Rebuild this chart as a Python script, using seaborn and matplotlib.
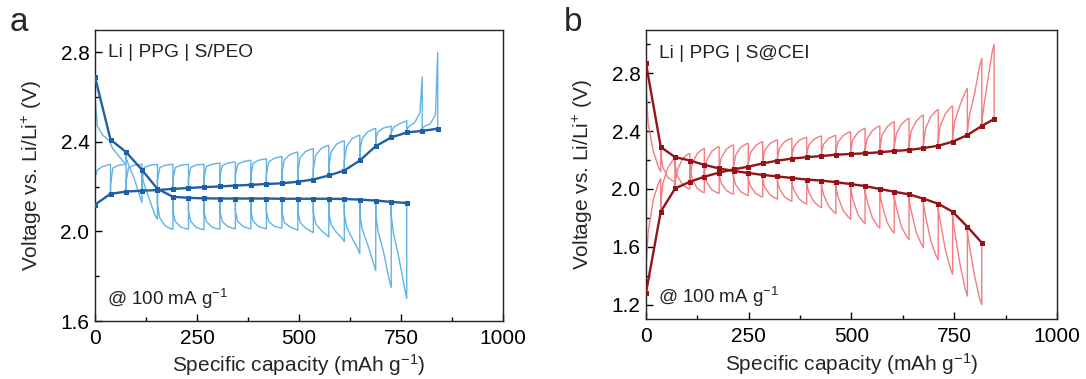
import numpy as np
import pandas as pd
import matplotlib
matplotlib.use("Agg")
import matplotlib.pyplot as plt
from matplotlib.ticker import MultipleLocator
import seaborn as sns

# ---------------- panel a : Li | PPG | S/PEO ----------------
cap_a_dis = [0, 38, 76, 115, 153, 191, 229, 267, 306, 344, 382, 420, 458, 497,
             535, 573, 611, 649, 688, 726, 764]
cap_a_chg = [0, 38, 76, 115, 153, 191, 229, 267, 306, 344, 382, 420, 458, 497,
             535, 573, 611, 649, 688, 726, 764, 802, 840]

# quasi-equilibrium (relaxed) voltages
eq_a_dis = [2.69, 2.41, 2.355, 2.275, 2.19, 2.155, 2.15, 2.148, 2.147, 2.147, 2.147,
            2.147, 2.146, 2.146, 2.146, 2.146, 2.145, 2.142, 2.138, 2.132, 2.127]
eq_a_chg = [2.12, 2.168, 2.178, 2.182, 2.185, 2.19, 2.194, 2.198, 2.201, 2.205, 2.208,
            2.212, 2.215, 2.222, 2.232, 2.25, 2.272, 2.317, 2.381, 2.42, 2.442, 2.449, 2.459]

# pulse profiles: voltage right after current on, at 15 %, 50 %, 85 % and end of pulse
ir_a_dis = [2.60, 2.39, 2.33, 2.25, 2.12, 2.09, 2.09, 2.09, 2.09, 2.09, 2.09, 2.09,
            2.09, 2.09, 2.085, 2.085, 2.08, 2.08, 2.075, 2.07]
q1_a_dis = [2.47, 2.37, 2.30, 2.21, 2.06, 2.045, 2.045, 2.045, 2.045, 2.045, 2.045, 2.045,
            2.04, 2.04, 2.035, 2.03, 2.02, 2.01, 2.0, 1.99]
mid_a_dis = [2.43, 2.34, 2.24, 2.14, 2.025, 2.02, 2.018, 2.02, 2.022, 2.022, 2.022, 2.024,
             2.02, 2.015, 2.005, 1.995, 1.97, 1.94, 1.91, 1.88]
q3_a_dis = [2.41, 2.31, 2.16, 2.07, 2.012, 2.012, 2.01, 2.012, 2.014, 2.014, 2.014, 2.017,
            2.01, 2.0, 1.985, 1.97, 1.925, 1.86, 1.79, 1.75]
end_a_dis = [2.40, 2.30, 2.13, 2.055, 2.01, 2.01, 2.008, 2.01, 2.012, 2.012, 2.012, 2.015,
             2.006, 1.995, 1.975, 1.955, 1.90, 1.825, 1.75, 1.70]

ir_a_chg = [2.24, 2.21, 2.22, 2.225, 2.228, 2.232, 2.236, 2.24, 2.245, 2.25, 2.25,
            2.255, 2.26, 2.265, 2.275, 2.29, 2.315, 2.36, 2.41, 2.44, 2.455, 2.46]
q1_a_chg = [2.275, 2.283, 2.285, 2.285, 2.285, 2.285, 2.286, 2.29, 2.293, 2.30, 2.305,
            2.31, 2.32, 2.33, 2.34, 2.355, 2.38, 2.415, 2.445, 2.465, 2.47, 2.47]
mid_a_chg = [2.29, 2.295, 2.296, 2.296, 2.296, 2.296, 2.297, 2.30, 2.305, 2.312, 2.318,
             2.327, 2.343, 2.357, 2.37, 2.39, 2.415, 2.445, 2.462, 2.48, 2.485, 2.48]
q3_a_chg = [2.297, 2.299, 2.299, 2.299, 2.299, 2.299, 2.299, 2.304, 2.309, 2.316, 2.323,
            2.333, 2.352, 2.367, 2.382, 2.402, 2.427, 2.457, 2.468, 2.49, 2.53, 2.52]
end_a_chg = [2.30, 2.30, 2.30, 2.30, 2.30, 2.30, 2.30, 2.305, 2.31, 2.318, 2.325,
             2.335, 2.355, 2.37, 2.385, 2.405, 2.43, 2.46, 2.47, 2.495, 2.69, 2.80]

# ---------------- panel b : Li | PPG | S@CEI ----------------
cap_b_dis = [0, 36, 71, 107, 142, 178, 213, 249, 284, 320, 355, 391, 427, 462,
             498, 533, 569, 604, 640, 675, 711, 746, 782, 817]
cap_b_chg = [0, 36, 71, 107, 142, 178, 213, 249, 284, 320, 355, 391, 427, 462,
             498, 533, 569, 604, 640, 675, 711, 746, 782, 817, 847]

eq_b_dis = [2.87, 2.29, 2.22, 2.197, 2.167, 2.142, 2.125, 2.111, 2.097, 2.087, 2.076, 2.065,
            2.058, 2.047, 2.034, 2.02, 2.0, 1.981, 1.963, 1.933, 1.898, 1.843, 1.739, 1.628]
eq_b_chg = [1.28, 1.843, 2.004, 2.05, 2.085, 2.113, 2.136, 2.154, 2.177, 2.196, 2.21, 2.22,
            2.228, 2.237, 2.242, 2.247, 2.254, 2.263, 2.27, 2.283, 2.299, 2.327, 2.373,
            2.436, 2.484]

ir_b_dis = [2.72, 2.24, 2.17, 2.15, 2.12, 2.10, 2.085, 2.07, 2.06, 2.05, 2.04, 2.03,
            2.02, 2.01, 2.0, 1.985, 1.965, 1.945, 1.925, 1.895, 1.86, 1.80, 1.70]
q1_b_dis = [2.45, 2.15, 2.09, 2.07, 2.05, 2.04, 2.03, 2.02, 2.01, 2.0, 1.99, 1.975,
            1.96, 1.945, 1.93, 1.915, 1.895, 1.87, 1.85, 1.81, 1.77, 1.70, 1.60]
mid_b_dis = [2.26, 2.08, 2.03, 2.005, 1.995, 1.99, 1.98, 1.97, 1.96, 1.945, 1.93, 1.91,
             1.88, 1.85, 1.825, 1.80, 1.77, 1.735, 1.70, 1.64, 1.58, 1.48, 1.40]
q3_b_dis = [2.15, 2.055, 2.005, 1.98, 1.975, 1.97, 1.96, 1.95, 1.937, 1.922, 1.903, 1.88,
            1.842, 1.805, 1.775, 1.745, 1.71, 1.67, 1.62, 1.54, 1.45, 1.31, 1.24]
end_b_dis = [2.12, 2.05, 2.00, 1.975, 1.97, 1.965, 1.955, 1.945, 1.93, 1.915, 1.895, 1.87,
             1.83, 1.79, 1.76, 1.73, 1.695, 1.65, 1.595, 1.51, 1.41, 1.26, 1.20]

ir_b_chg = [1.45, 1.90, 2.04, 2.08, 2.11, 2.14, 2.16, 2.18, 2.20, 2.22, 2.235, 2.245,
            2.253, 2.262, 2.268, 2.273, 2.28, 2.29, 2.30, 2.31, 2.33, 2.36, 2.40, 2.46]
q1_b_chg = [1.70, 2.04, 2.13, 2.17, 2.195, 2.215, 2.235, 2.25, 2.27, 2.285, 2.295, 2.305,
            2.31, 2.325, 2.34, 2.35, 2.37, 2.385, 2.40, 2.42, 2.44, 2.47, 2.51, 2.56]
mid_b_chg = [1.93, 2.15, 2.21, 2.245, 2.26, 2.275, 2.29, 2.30, 2.315, 2.328, 2.337, 2.345,
             2.35, 2.37, 2.39, 2.405, 2.43, 2.45, 2.47, 2.50, 2.52, 2.58, 2.66, 2.76]
q3_b_chg = [2.04, 2.20, 2.24, 2.273, 2.287, 2.299, 2.311, 2.322, 2.335, 2.346, 2.353, 2.362,
            2.366, 2.391, 2.414, 2.43, 2.458, 2.481, 2.503, 2.54, 2.563, 2.67, 2.85, 2.95]
end_b_chg = [2.07, 2.21, 2.245, 2.28, 2.293, 2.304, 2.316, 2.327, 2.339, 2.35, 2.357, 2.366,
             2.37, 2.396, 2.42, 2.436, 2.465, 2.489, 2.512, 2.551, 2.574, 2.696, 2.904, 3.0]

# pulse sample positions as a fraction of each step
pulse_frac = [0.0, 0.15, 0.5, 0.85, 1.0]


def gitt_trace(caps, eq, ir, q1, mid, q3, end):
    xs, ys = [], []
    for i in range(len(end)):
        c0, c1 = caps[i], caps[i + 1]
        w = c1 - c0
        xs += [c0] + [c0 + f * w for f in pulse_frac] + [c1]
        ys += [eq[i], ir[i], q1[i], mid[i], q3[i], end[i], eq[i + 1]]
    return pd.DataFrame({"cap": xs, "volt": ys})


sns.set_theme(style="ticks")
plt.rcParams["font.family"] = ["Liberation Sans", "DejaVu Sans"]
plt.rcParams["mathtext.default"] = "regular"
plt.rcParams["axes.linewidth"] = 1.0

fig = plt.figure(figsize=(10.86, 3.79), dpi=100)
ax_a = fig.add_axes([0.0875, 0.153, 0.3757, 0.768])
ax_b = fig.add_axes([0.5948, 0.158, 0.3785, 0.763])

light_a, dark_a = "#62b3e8", "#1f5fa6"
light_b, dark_b = "#f47c82", "#951318"

panels = [
    (ax_a, light_a, dark_a,
     gitt_trace(cap_a_dis, eq_a_dis, ir_a_dis, q1_a_dis, mid_a_dis, q3_a_dis, end_a_dis),
     gitt_trace(cap_a_chg, eq_a_chg, ir_a_chg, q1_a_chg, mid_a_chg, q3_a_chg, end_a_chg),
     cap_a_dis, eq_a_dis, cap_a_chg, eq_a_chg),
    (ax_b, light_b, dark_b,
     gitt_trace(cap_b_dis, eq_b_dis, ir_b_dis, q1_b_dis, mid_b_dis, q3_b_dis, end_b_dis),
     gitt_trace(cap_b_chg, eq_b_chg, ir_b_chg, q1_b_chg, mid_b_chg, q3_b_chg, end_b_chg),
     cap_b_dis, eq_b_dis, cap_b_chg, eq_b_chg),
]

for ax, light, dark, tr_dis, tr_chg, cd, ed, cc, ec in panels:
    for tr in (tr_dis, tr_chg):
        sns.lineplot(data=tr, x="cap", y="volt", sort=False, estimator=None,
                     color=light, lw=1.0, ax=ax, zorder=2)
    for c, e in ((cd, ed), (cc, ec)):
        sns.lineplot(x=c, y=e, sort=False, estimator=None, color=dark, lw=1.7,
                     marker="s", markersize=3.6, markeredgewidth=0, ax=ax, zorder=3)

ax_a.set_ylim(1.6, 2.9)
ax_a.yaxis.set_major_locator(MultipleLocator(0.4))
ax_b.set_ylim(1.1, 3.1)
ax_b.set_yticks([1.2, 1.6, 2.0, 2.4, 2.8])

for ax in (ax_a, ax_b):
    ax.set_xlim(0, 1000)
    ax.set_xticks([0, 250, 500, 750, 1000])
    ax.xaxis.set_minor_locator(MultipleLocator(125))
    ax.yaxis.set_minor_locator(MultipleLocator(0.2))
    ax.yaxis.set_major_formatter(matplotlib.ticker.FormatStrFormatter("%.1f"))
    ax.tick_params(which="both", direction="in", top=False, right=False,
                   width=1.0, colors="black", labelsize=15)
    ax.tick_params(which="major", length=5)
    ax.tick_params(axis="x", which="major", pad=6)
    ax.tick_params(axis="y", which="major", pad=4)
    ax.tick_params(which="minor", length=3)
    for sp in ax.spines.values():
        sp.set_visible(True)
        sp.set_color("#222222")
    ax.set_xlabel("Specific capacity (mAh g$^{-1}$)", fontsize=15, labelpad=3)
    ax.set_ylabel("Voltage vs. Li/Li$^{+}$ (V)", fontsize=15, labelpad=12)
    ax.text(0.03, 0.075, "@ 100 mA g$^{-1}$", transform=ax.transAxes,
            fontsize=13.5, va="center", ha="left", color="#222222")

ax_a.text(0.032, 0.922, "Li | PPG | S/PEO", transform=ax_a.transAxes,
          fontsize=13.8, va="center", ha="left", color="#222222")
ax_b.text(0.032, 0.92, "Li | PPG | S@CEI", transform=ax_b.transAxes,
          fontsize=13.8, va="center", ha="left", color="#222222")

fig.text(0.009, 0.94, "a", fontsize=24, va="center", ha="left")
fig.text(0.519, 0.94, "b", fontsize=24, va="center", ha="left")

fig.savefig("out.png", dpi=100)
